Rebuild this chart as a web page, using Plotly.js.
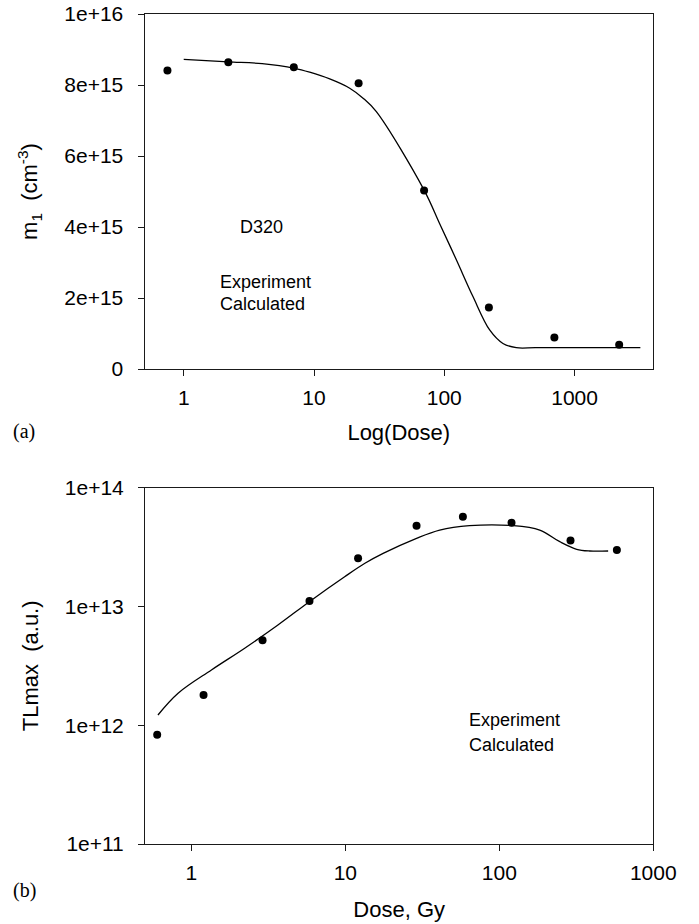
<!DOCTYPE html>
<html>
<head>
<meta charset="utf-8">
<script src="https://cdn.plot.ly/plotly-3.0.1.min.js"></script>
<style>html,body{margin:0;padding:0;background:#fff;}#chart{width:699px;height:924px;}</style>
</head>
<body>
<div id="chart"></div>
<script>
// ---- Panel (a): m1 vs dose ----
var topDoseExp = [0.75, 2.2, 7, 22, 70, 220, 700, 2200];
var topM1Exp   = [8.41e15, 8.64e15, 8.5e15, 8.05e15, 5.03e15, 1.73e15, 0.89e15, 0.68e15];
var topDoseCalc = [1, 2.2, 4, 7.1, 9.27, 13.2, 18.8, 23.8, 30.1, 70, 92, 124, 166, 223, 282, 357, 500, 1000, 2000, 3200];
var topM1Calc   = [8.72e15, 8.65e15, 8.6e15, 8.47e15, 8.36e15, 8.17e15, 7.91e15, 7.63e15, 7.25e15, 5.04e15, 4.1e15, 3.07e15, 2.04e15, 1.1e15, 0.72e15, 0.6e15, 0.6e15, 0.6e15, 0.6e15, 0.6e15];
var topYTickVals = [0, 2e15, 4e15, 6e15, 8e15, 1e16];
var topYTickText = ['0', '2e+15', '4e+15', '6e+15', '8e+15', '1e+16'];
var topXTickVals = [1, 10, 100, 1000];
var topXTickText = ['1', '10', '100', '1000'];

// ---- Panel (b): TLmax vs dose ----
var botDoseExp = [0.6, 1.2, 2.9, 5.85, 12.1, 29, 58, 120, 290, 580];
var botTLExp   = [8.3e11, 1.8e12, 5.2e12, 1.11e13, 2.55e13, 4.79e13, 5.7e13, 5.07e13, 3.6e13, 2.99e13];
var botDoseCalc = [0.607, 0.82, 1.35, 2.22, 3.65, 6.02, 9.9, 13.4, 17.6, 29, 41, 64, 123, 183, 247, 318, 387, 509];
var botTLCalc   = [1.22e12, 1.86e12, 2.92e12, 4.45e12, 6.98e12, 1.13e13, 1.78e13, 2.31e13, 2.8e13, 3.75e13, 4.4e13, 4.79e13, 4.79e13, 4.4e13, 3.51e13, 3.03e13, 2.93e13, 2.93e13];
var botYTickVals = [1e11, 1e12, 1e13, 1e14];
var botYTickText = ['1e+11', '1e+12', '1e+13', '1e+14'];
var botXTickVals = [1, 10, 100, 1000];
var botXTickText = ['1', '10', '100', '1000'];

var W = 699, H = 924;
function px(x){ return x / W; }
function py(y){ return 1 - y / H; }

var sans = 'Liberation Sans, Arial, sans-serif';
var serif = 'Liberation Serif, Times New Roman, serif';
var lineCol = '#1a1a1a';

var traces = [
  {x: topDoseCalc, y: topM1Calc, mode: 'lines', line: {color: '#000', width: 1.3, shape: 'spline', smoothing: 1}, xaxis: 'x', yaxis: 'y', name: 'Calculated', showlegend: false},
  {x: topDoseExp, y: topM1Exp, mode: 'markers', marker: {color: '#000', size: 8}, xaxis: 'x', yaxis: 'y', name: 'Experiment', showlegend: false},
  {x: botDoseCalc, y: botTLCalc, mode: 'lines', line: {color: '#000', width: 1.3, shape: 'spline', smoothing: 1}, xaxis: 'x2', yaxis: 'y2', name: 'Calculated', showlegend: false},
  {x: botDoseExp, y: botTLExp, mode: 'markers', marker: {color: '#000', size: 8}, xaxis: 'x2', yaxis: 'y2', name: 'Experiment', showlegend: false}
];

function axisBase(){
  return {
    showline: true, linecolor: lineCol, linewidth: 1, mirror: true,
    ticks: 'outside', ticklen: 6, tickwidth: 1, tickcolor: lineCol,
    showgrid: false, zeroline: false,
    tickfont: {family: sans, size: 21, color: '#000'},
    tickmode: 'array'
  };
}

var xa = axisBase();
Object.assign(xa, {type: 'log', range: [Math.log10(0.5), Math.log10(4000)], tickvals: topXTickVals, ticktext: topXTickText,
  domain: [px(144.5), px(653)], anchor: 'y', ticklabelstandoff: 4,
  title: {text: 'Log(Dose)', font: {family: sans, size: 22, color: '#000'}, standoff: 16}});
var ya = axisBase();
Object.assign(ya, {type: 'linear', range: [0, 1e16], tickvals: topYTickVals, ticktext: topYTickText,
  domain: [py(369), py(14)], anchor: 'x', ticklabelstandoff: 10,
  title: {text: 'm<sub>1</sub>  (cm<sup>-3</sup>)', font: {family: sans, size: 22, color: '#000'}, standoff: 20}});
var xa2 = axisBase();
Object.assign(xa2, {type: 'log', range: [Math.log10(0.5), 3], tickvals: botXTickVals, ticktext: botXTickText,
  domain: [px(145), px(653.3)], anchor: 'y2', ticklabelstandoff: 4,
  title: {text: 'Dose, Gy', font: {family: sans, size: 22, color: '#000'}, standoff: 18}});
var ya2 = axisBase();
Object.assign(ya2, {type: 'log', range: [11, 14], tickvals: botYTickVals, ticktext: botYTickText,
  domain: [py(844), py(487.7)], anchor: 'x2', ticklabelstandoff: 10,
  title: {text: 'TLmax  (a.u.)', font: {family: sans, size: 22, color: '#000'}, standoff: 20}});

var annFont = {family: sans, size: 18, color: '#000'};
var annotations = [
  {xref: 'paper', yref: 'paper', x: px(261.7), y: py(226.7), text: 'D320', showarrow: false, xanchor: 'center', yanchor: 'middle', font: annFont},
  {xref: 'paper', yref: 'paper', x: px(218.3), y: py(281.7), text: 'Experiment', showarrow: false, xanchor: 'left', yanchor: 'middle', font: annFont},
  {xref: 'paper', yref: 'paper', x: px(218.3), y: py(304), text: 'Calculated', showarrow: false, xanchor: 'left', yanchor: 'middle', font: annFont},
  {xref: 'paper', yref: 'paper', x: px(467.3), y: py(720), text: 'Experiment', showarrow: false, xanchor: 'left', yanchor: 'middle', font: annFont},
  {xref: 'paper', yref: 'paper', x: px(467.3), y: py(745), text: 'Calculated', showarrow: false, xanchor: 'left', yanchor: 'middle', font: annFont},
  {xref: 'paper', yref: 'paper', x: px(11), y: py(431.7), text: '(a)', showarrow: false, xanchor: 'left', yanchor: 'middle', font: {family: serif, size: 20, color: '#000'}},
  {xref: 'paper', yref: 'paper', x: px(11), y: py(890), text: '(b)', showarrow: false, xanchor: 'left', yanchor: 'middle', font: {family: serif, size: 20, color: '#000'}}
];

var layout = {
  width: W, height: H,
  margin: {l: 0, r: 0, t: 0, b: 0},
  paper_bgcolor: '#fff', plot_bgcolor: '#fff',
  showlegend: false,
  xaxis: xa, yaxis: ya, xaxis2: xa2, yaxis2: ya2,
  annotations: annotations,
  font: {family: sans, color: '#000'}
};

Plotly.newPlot('chart', traces, layout, {staticPlot: true, displayModeBar: false});
</script>
</body>
</html>
